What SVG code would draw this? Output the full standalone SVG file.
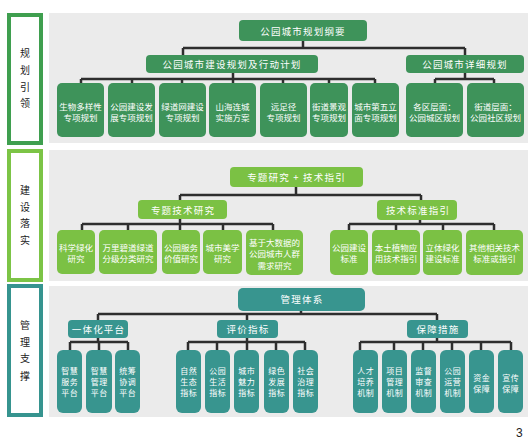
<svg xmlns="http://www.w3.org/2000/svg" width="532" height="443" viewBox="0 0 532 443">
<style>
.bg{fill:#ebebeb}
.frame{fill:#fff;stroke-width:4}
.lbl{font-family:"Noto Sans CJK SC","Noto Sans",sans-serif;font-size:10px;fill:#222;text-anchor:middle}
.n1{fill:#3e935a}
.n2{fill:#7bc144}
.n3{fill:#38958f}
.t{font-family:"Noto Sans CJK SC","Noto Sans",sans-serif;fill:#fff;text-anchor:middle}
.s{font-size:8.5px}
.m{font-size:9.5px;letter-spacing:1.2px}
.c{font-size:8px;letter-spacing:0.6px}
.conn path{stroke:#2e2e2e;stroke-width:2.5;fill:none}
.pg{font-family:"Liberation Sans",Arial,sans-serif;font-size:12px;fill:#222}
</style>

<!-- backgrounds and side panels -->
<rect class="bg" x="49" y="13" width="479" height="130"/>
<rect class="bg" x="49" y="150" width="479" height="131"/>
<rect class="bg" x="49" y="286" width="479" height="131"/>

<g id="panel-guide">
<rect class="frame" x="9" y="15" width="32" height="128" stroke="#3f9f4f"/>
<text class="lbl" x="25" y="57">规</text>
<text class="lbl" x="25" y="74">划</text>
<text class="lbl" x="25" y="91">引</text>
<text class="lbl" x="25" y="107">领</text>
</g>
<g id="panel-build">
<rect class="frame" x="9" y="151" width="32" height="129" stroke="#7cc446"/>
<text class="lbl" x="25" y="194">建</text>
<text class="lbl" x="25" y="211">设</text>
<text class="lbl" x="25" y="227">落</text>
<text class="lbl" x="25" y="244">实</text>
</g>
<g id="panel-manage">
<rect class="frame" x="9" y="286" width="32" height="129" stroke="#36948f"/>
<text class="lbl" x="25" y="329">管</text>
<text class="lbl" x="25" y="346">理</text>
<text class="lbl" x="25" y="362">支</text>
<text class="lbl" x="25" y="380">撑</text>
</g>

<!-- connectors -->
<g class="conn" id="connectors">
<path d="M303,41V48M183,48H465M183,48V55M465,48V55"/>
<path d="M233,73V79M81,79H375M81,79V83M132,79V83M182,79V83M233,79V83M283,79V83M329,79V83M375,79V83"/>
<path d="M465,73V79M435,79H494M435,79V83M494,79V83"/>
<path d="M296,187V195M180,195H421M180,195V200M421,195V200"/>
<path d="M180,219V224M82,224H273M82,224V230M128,224V230M180,224V230M223,224V230M273,224V230"/>
<path d="M420,220V224M349,224H494M349,224V230M396,224V230M443,224V230M494,224V230"/>
<path d="M301,311V314M98,314H437M98,314V320M247,314V320M437,314V320"/>
<path d="M98,338V342M70,342H128M70,342V350M99,342V350M128,342V350"/>
<path d="M247,338V342M188,342H305M188,342V350M217,342V350M247,342V350M276,342V350M305,342V350"/>
<path d="M437,338V342M360,342H511M360,342V350M394,342V350M423,342V350M452,342V350M481,342V350M511,342V350"/>
</g>

<!-- section 1 -->
<g id="n-gangyao"><rect class="n1" x="239" y="20" width="128" height="21" rx="4"/><text class="t m" x="303" y="34.5">公园城市规划纲要</text></g>
<g id="n-jianshe"><rect class="n1" x="146" y="55" width="172" height="18" rx="4"/><text class="t m" x="232" y="68">公园城市建设规划及行动计划</text></g>
<g id="n-xiangxi"><rect class="n1" x="406" y="55" width="118" height="18" rx="4"/><text class="t m" x="465" y="68">公园城市详细规划</text></g>

<g id="n-a1"><rect class="n1" x="57" y="83" width="47" height="54" rx="5"/><text class="t s" x="80.5" y="109.5">生物多样性</text><text class="t s" x="80.5" y="120.5">专项规划</text></g>
<g id="n-a2"><rect class="n1" x="108" y="83" width="47" height="54" rx="5"/><text class="t s" x="131.5" y="109.5">公园建设发</text><text class="t s" x="131.5" y="120.5">展专项规划</text></g>
<g id="n-a3"><rect class="n1" x="159" y="83" width="47" height="54" rx="5"/><text class="t s" x="182.5" y="109.5">绿道网建设</text><text class="t s" x="182.5" y="120.5">专项规划</text></g>
<g id="n-a4"><rect class="n1" x="209" y="83" width="47" height="54" rx="5"/><text class="t s" x="232.5" y="109.5">山海连城</text><text class="t s" x="232.5" y="120.5">实施方案</text></g>
<g id="n-a5"><rect class="n1" x="260" y="83" width="47" height="54" rx="5"/><text class="t s" x="283.5" y="109.5">远足径</text><text class="t s" x="283.5" y="120.5">专项规划</text></g>
<g id="n-a6"><rect class="n1" x="310" y="83" width="38" height="54" rx="5"/><text class="t s" x="329" y="109.5">街道景观</text><text class="t s" x="329" y="120.5">专项规划</text></g>
<g id="n-a7"><rect class="n1" x="352" y="83" width="47" height="54" rx="5"/><text class="t s" x="375.5" y="109.5">城市第五立</text><text class="t s" x="375.5" y="120.5">面专项规划</text></g>
<g id="n-b1"><rect class="n1" x="406" y="83" width="57" height="54" rx="5"/><text class="t s" x="434.5" y="109.5">各区层面：</text><text class="t s" x="434.5" y="120.5">公园城区规划</text></g>
<g id="n-b2"><rect class="n1" x="467" y="83" width="57" height="54" rx="5"/><text class="t s" x="495.5" y="109.5">街道层面：</text><text class="t s" x="495.5" y="120.5">公园社区规划</text></g>

<!-- section 2 -->
<g id="n-zhuanti-top"><rect class="n2" x="230" y="167" width="133" height="20" rx="4"/><text class="t m" x="296.5" y="181">专题研究 + 技术指引</text></g>
<g id="n-zhuanti"><rect class="n2" x="138" y="200" width="89" height="19" rx="4"/><text class="t m" x="183" y="213.5">专题技术研究</text></g>
<g id="n-biaozhun"><rect class="n2" x="377" y="200" width="80" height="20" rx="4"/><text class="t m" x="418" y="213.5">技术标准指引</text></g>

<g id="n-c1"><rect class="n2" x="57" y="230" width="38" height="44" rx="5"/><text class="t s" x="76" y="251">科学绿化</text><text class="t s" x="76" y="262">研究</text></g>
<g id="n-c2"><rect class="n2" x="99" y="230" width="58" height="44" rx="5"/><text class="t s" x="128" y="251">万里碧道绿道</text><text class="t s" x="128" y="262">分级分类研究</text></g>
<g id="n-c3"><rect class="n2" x="162" y="230" width="38" height="44" rx="5"/><text class="t s" x="181" y="251">公园服务</text><text class="t s" x="181" y="262">价值研究</text></g>
<g id="n-c4"><rect class="n2" x="203" y="230" width="39" height="44" rx="5"/><text class="t s" x="222.5" y="251">城市美学</text><text class="t s" x="222.5" y="262">研究</text></g>
<g id="n-c5"><rect class="n2" x="246" y="230" width="57" height="45" rx="5"/><text class="t s" x="274.5" y="245.5">基于大数据的</text><text class="t s" x="274.5" y="257">公园城市人群</text><text class="t s" x="274.5" y="268.5">需求研究</text></g>
<g id="n-d1"><rect class="n2" x="330" y="230" width="38" height="45" rx="5"/><text class="t s" x="349" y="251">公园建设</text><text class="t s" x="349" y="262">标准</text></g>
<g id="n-d2"><rect class="n2" x="372" y="230" width="48" height="45" rx="5"/><text class="t s" x="396" y="251">本土植物应</text><text class="t s" x="396" y="262">用技术指引</text></g>
<g id="n-d3"><rect class="n2" x="423" y="230" width="39" height="45" rx="5"/><text class="t s" x="442.5" y="251">立体绿化</text><text class="t s" x="442.5" y="262">建设标准</text></g>
<g id="n-d4"><rect class="n2" x="466" y="230" width="57" height="45" rx="5"/><text class="t s" x="494.5" y="251">其他相关技术</text><text class="t s" x="494.5" y="262">标准或指引</text></g>

<!-- section 3 -->
<g id="n-guanli"><rect class="n3" x="238" y="288" width="127" height="23" rx="5"/><text class="t m" x="302" y="303">管理体系</text></g>
<g id="n-pingtai"><rect class="n3" x="68" y="320" width="60" height="18" rx="4"/><text class="t m" x="98.5" y="333">一体化平台</text></g>
<g id="n-pingjia"><rect class="n3" x="217" y="320" width="61" height="18" rx="4"/><text class="t m" x="248" y="333">评价指标</text></g>
<g id="n-baozhang"><rect class="n3" x="407" y="320" width="61" height="18" rx="4"/><text class="t m" x="438" y="333">保障措施</text></g>

<g id="n-e1"><rect class="n3" x="57" y="350" width="25" height="63" rx="6"/><text class="t c" x="69.8" y="374">智慧</text><text class="t c" x="69.8" y="385">服务</text><text class="t c" x="69.8" y="396">平台</text></g>
<g id="n-e2"><rect class="n3" x="86" y="350" width="26" height="63" rx="6"/><text class="t c" x="99.3" y="374">智慧</text><text class="t c" x="99.3" y="385">管理</text><text class="t c" x="99.3" y="396">平台</text></g>
<g id="n-e3"><rect class="n3" x="115" y="350" width="25" height="63" rx="6"/><text class="t c" x="127.8" y="374">统筹</text><text class="t c" x="127.8" y="385">协调</text><text class="t c" x="127.8" y="396">平台</text></g>

<g id="n-f1"><rect class="n3" x="176" y="350" width="25" height="63" rx="6"/><text class="t c" x="188.8" y="374">自然</text><text class="t c" x="188.8" y="385">生态</text><text class="t c" x="188.8" y="396">指标</text></g>
<g id="n-f2"><rect class="n3" x="205" y="350" width="25" height="63" rx="6"/><text class="t c" x="217.8" y="374">公园</text><text class="t c" x="217.8" y="385">生活</text><text class="t c" x="217.8" y="396">指标</text></g>
<g id="n-f3"><rect class="n3" x="234" y="350" width="25" height="63" rx="6"/><text class="t c" x="246.8" y="374">城市</text><text class="t c" x="246.8" y="385">魅力</text><text class="t c" x="246.8" y="396">指标</text></g>
<g id="n-f4"><rect class="n3" x="264" y="350" width="25" height="63" rx="6"/><text class="t c" x="276.8" y="374">绿色</text><text class="t c" x="276.8" y="385">发展</text><text class="t c" x="276.8" y="396">指标</text></g>
<g id="n-f5"><rect class="n3" x="293" y="350" width="25" height="63" rx="6"/><text class="t c" x="305.8" y="374">社会</text><text class="t c" x="305.8" y="385">治理</text><text class="t c" x="305.8" y="396">指标</text></g>

<g id="n-g1"><rect class="n3" x="353" y="350" width="25" height="63" rx="6"/><text class="t c" x="365.8" y="374">人才</text><text class="t c" x="365.8" y="385">培养</text><text class="t c" x="365.8" y="396">机制</text></g>
<g id="n-g2"><rect class="n3" x="382" y="350" width="25" height="63" rx="6"/><text class="t c" x="394.8" y="374">项目</text><text class="t c" x="394.8" y="385">管理</text><text class="t c" x="394.8" y="396">机制</text></g>
<g id="n-g3"><rect class="n3" x="411" y="350" width="25" height="63" rx="6"/><text class="t c" x="423.8" y="374">监督</text><text class="t c" x="423.8" y="385">审查</text><text class="t c" x="423.8" y="396">机制</text></g>
<g id="n-g4"><rect class="n3" x="440" y="350" width="25" height="63" rx="6"/><text class="t c" x="452.8" y="374">公园</text><text class="t c" x="452.8" y="385">运营</text><text class="t c" x="452.8" y="396">机制</text></g>
<g id="n-g5"><rect class="n3" x="469" y="350" width="25" height="63" rx="6"/><text class="t c" x="481.8" y="380.5">资金</text><text class="t c" x="481.8" y="391.5">保障</text></g>
<g id="n-g6"><rect class="n3" x="498" y="350" width="25" height="63" rx="6"/><text class="t c" x="510.8" y="380.5">宣传</text><text class="t c" x="510.8" y="391.5">保障</text></g>

<text class="pg" x="516" y="437">3</text>
</svg>
